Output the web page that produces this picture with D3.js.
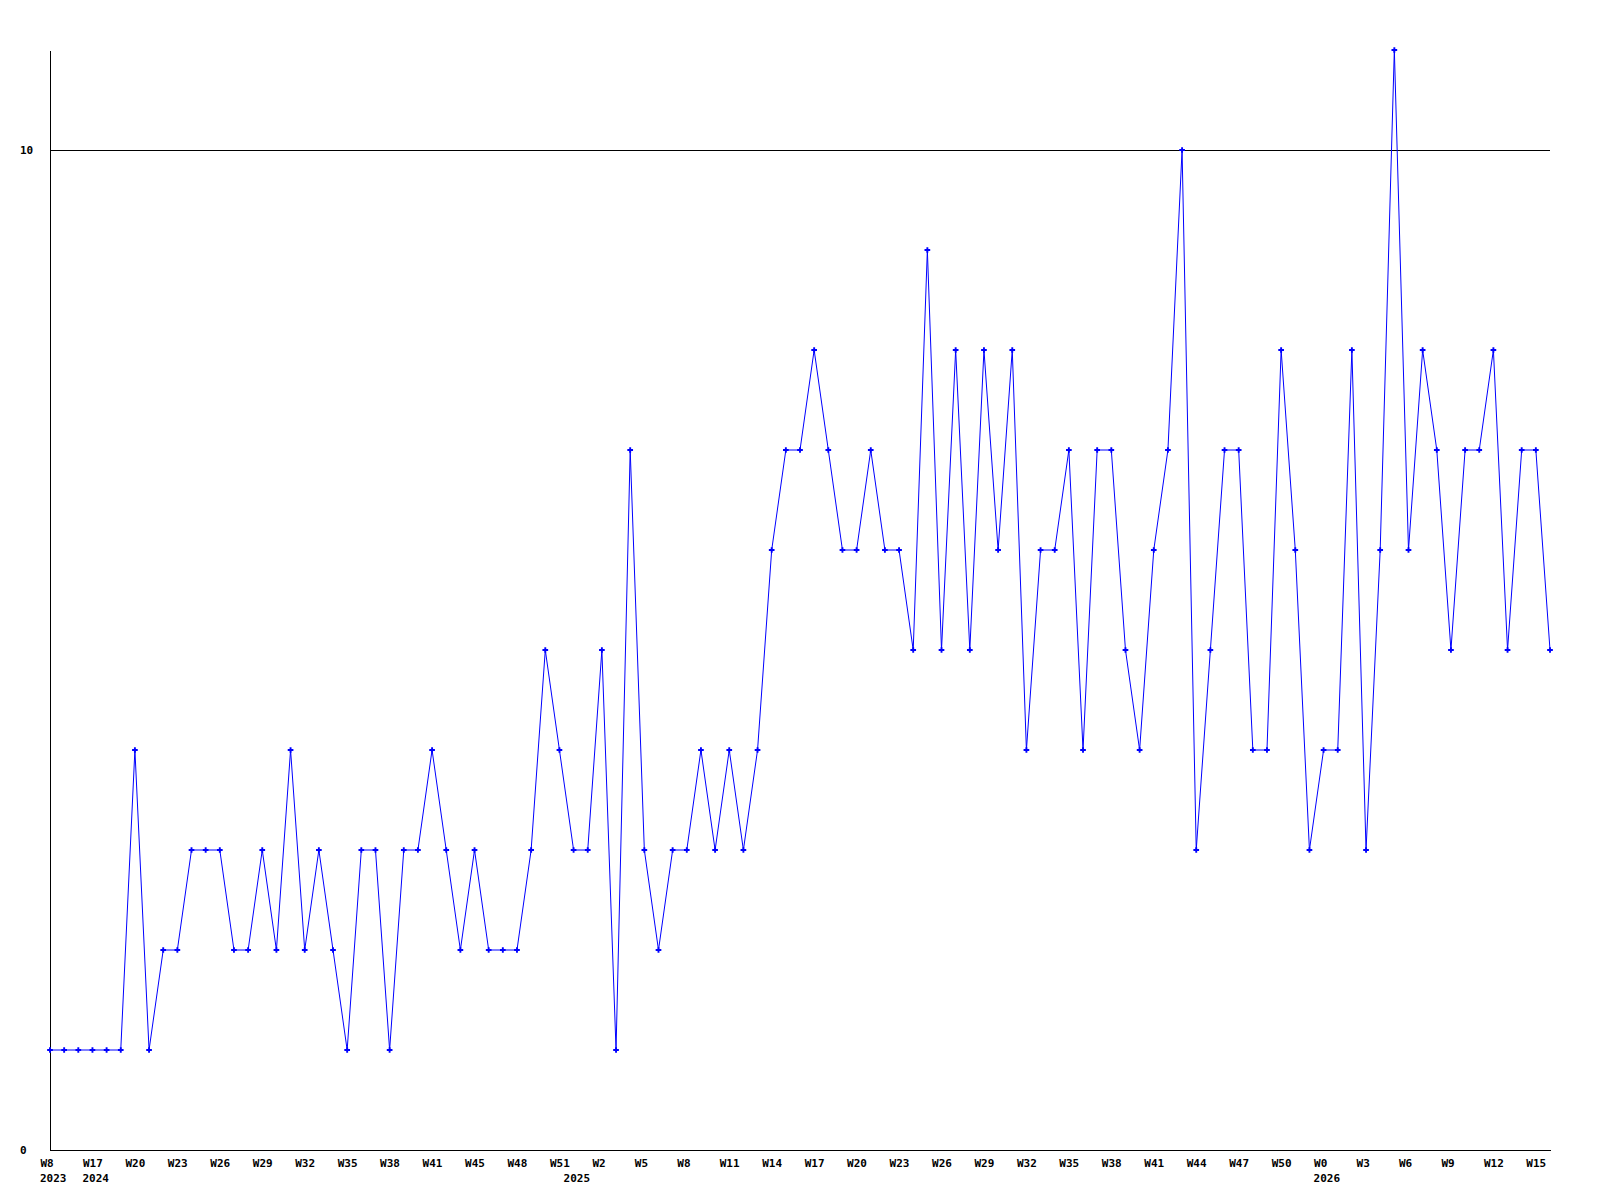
<!DOCTYPE html>
<html>
<head>
<meta charset="utf-8">
<script src="https://cdn.jsdelivr.net/npm/d3@7"></script>
<style>
  body { margin: 0; background: #fff; }
  text { font-family: "DejaVu Sans Mono", monospace; font-weight: bold; font-size: 11px; fill: #000; }
</style>
</head>
<body>
<script>
// weekly counts, one per point
const values = [
    1, 1, 1, 1, 1, 1, 4, 1, 2, 2,
    3, 3, 3, 2, 2, 3, 2, 4, 2, 3,
    2, 1, 3, 3, 1, 3, 3, 4, 3, 2,
    3, 2, 2, 2, 3, 5, 4, 3, 3, 5,
    1, 7, 3, 2, 3, 3, 4, 3, 4, 3,
    4, 6, 7, 7, 8, 7, 6, 6, 7, 6,
    6, 5, 9, 5, 8, 5, 8, 6, 8, 4,
    6, 6, 7, 4, 7, 7, 5, 4, 6, 7,
    10, 3, 5, 7, 7, 4, 4, 8, 6, 3,
    4, 4, 8, 3, 6, 11, 6, 8, 7, 5,
    7, 7, 8, 5, 7, 7, 5
];

// labels shown under every third point
const weekLabels = [
    "W8", "W17", "W20", "W23", "W26", "W29", "W32", "W35", "W38", "W41",
    "W45", "W48", "W51", "W2", "W5", "W8", "W11", "W14", "W17", "W20",
    "W23", "W26", "W29", "W32", "W35", "W38", "W41", "W44", "W47", "W50",
    "W0", "W3", "W6", "W9", "W12", "W15"
];
const labelEvery = 3;

// first point of each year
const yearLabels = ["2023", "2024", "2025", "2026"];
const yearStart = [0, 3, 37, 90];

const yTicks = [0, 10];
const yMax = 11;

const width = 1600;
const height = 1200;
const m = { left: 50, right: 1550, top: 50, bottom: 1150 };

const svg = d3.select("body").append("svg")
    .attr("width", width)
    .attr("height", height);

const x = d3.scaleLinear().domain([0, values.length - 1]).range([m.left, m.right]);
const y = d3.scaleLinear().domain([0, yMax]).range([m.bottom, m.top]);

// grid line at 10
svg.append("line")
    .attr("x1", m.left).attr("x2", m.right)
    .attr("y1", y(10)).attr("y2", y(10))
    .attr("stroke", "#000")
    .attr("shape-rendering", "crispEdges");

const xAxis = svg.append("g")
    .attr("transform", `translate(0,${m.bottom})`)
    .call(d3.axisBottom(x)
        .tickValues(weekLabels.map((_, i) => i * labelEvery))
        .tickFormat((d, i) => weekLabels[i])
        .tickSize(0)
        .tickSizeOuter(0));
xAxis.select(".domain").attr("stroke", "#000").attr("shape-rendering", "crispEdges");
xAxis.selectAll("text")
    .attr("text-anchor", "start")
    .attr("x", -10)
    .attr("y", 17)
    .attr("dy", null);
xAxis.attr("font-family", null).attr("font-size", null);

svg.selectAll(".year")
    .data(yearLabels)
    .enter().append("text")
    .attr("class", "year")
    .attr("x", (d, i) => x(yearStart[i]) - 10)
    .attr("y", m.bottom + 32)
    .text(d => d);

const yAxis = svg.append("g")
    .attr("transform", `translate(${m.left},0)`)
    .call(d3.axisLeft(y)
        .tickValues(yTicks)
        .tickSize(0)
        .tickSizeOuter(0));
yAxis.select(".domain").attr("stroke", "#000").attr("shape-rendering", "crispEdges");
yAxis.selectAll("text")
    .attr("text-anchor", "start")
    .attr("x", -30)
    .attr("dy", "0.32em");
yAxis.attr("font-family", null).attr("font-size", null);

const line = d3.line()
    .x((d, i) => x(i))
    .y(d => y(d));

svg.append("path")
    .datum(values)
    .attr("fill", "none")
    .attr("stroke", "#0000ff")
    .attr("stroke-width", 1)
    .attr("d", line);

svg.selectAll(".pt")
    .data(values)
    .enter().append("path")
    .attr("class", "pt")
    .attr("transform", (d, i) => `translate(${x(i)},${y(d)})`)
    .attr("d", d3.symbol(d3.symbolCross).size(18))
    .attr("fill", "#0000ff");
</script>
</body>
</html>
